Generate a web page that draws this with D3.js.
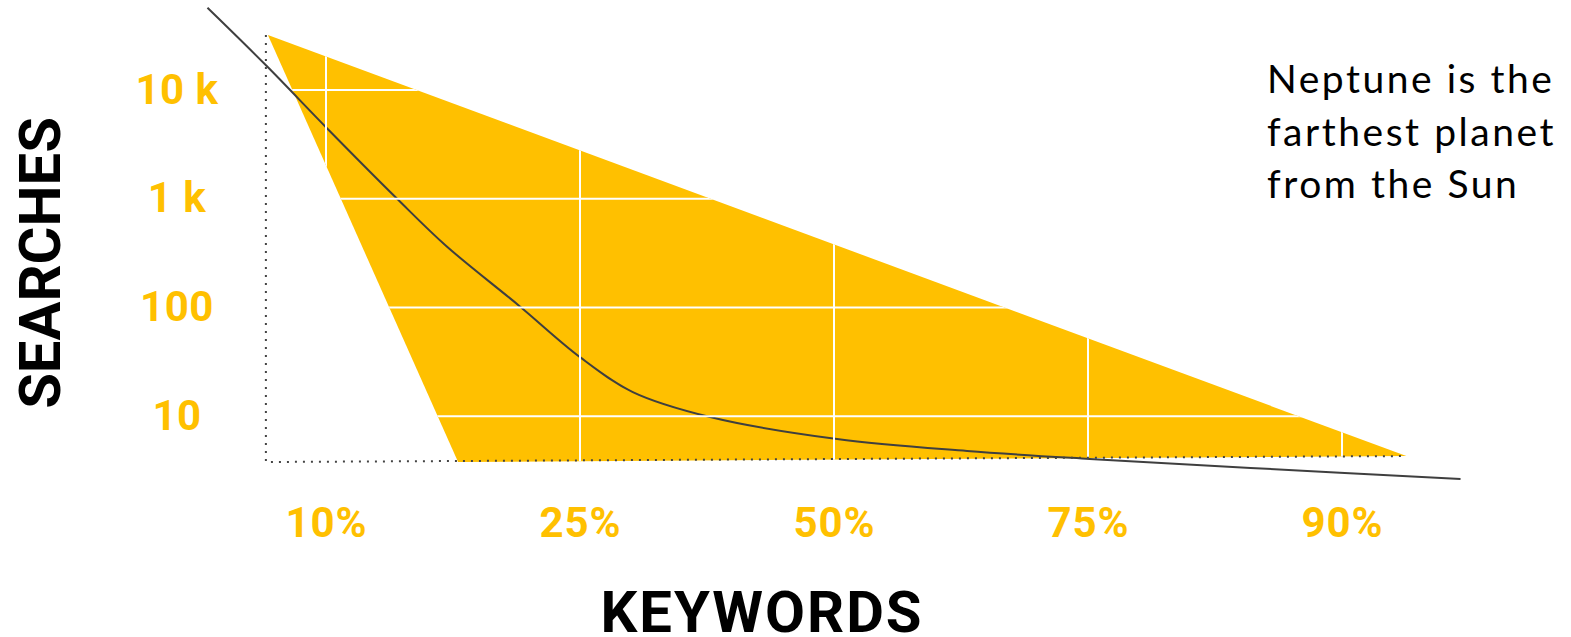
<!DOCTYPE html>
<html><head><meta charset="utf-8">
<script src="https://cdn.jsdelivr.net/npm/d3@7"></script>
<style>body{margin:0;background:#fff}</style>
</head><body><svg id="c" width="1571" height="637"></svg>
<script>
// ---- data ----
const xTickValues = [10, 25, 50, 75, 90];
const xTickLabels = ["10%", "25%", "50%", "75%", "90%"];
const yTickValues = [10, 100, 1000, 10000];
const yTickLabels = ["10", "100", "1 k", "10 k"];
const curveX = [3, 6.5, 10.1, 14.2, 17.1, 21.4, 25, 30.2, 37.8, 50.3, 63.1, 75.1, 84.6, 97];
const curveY = [57000, 16600, 4380, 1000, 368, 104, 35, 16.7, 9.85, 6.18, 4.8, 4.05, 3.35, 2.65];
const areaX = [6.57, 17.8, 93.8];
const areaY = [32000, 3.8, 4.31];
const frameX = [6.45, 6.45, 93.8];
const frameY = [32000, 3.8, 4.31];
const noteLines = ["Neptune is the", "farthest planet", "from the Sun"];
const xTitle = "KEYWORDS";
const yTitle = "SEARCHES";

// ---- style ----
const YELLOW = "#FFC000";
const DARK = "#3f3f3f";
const BOLD = "Roboto, 'Liberation Sans', sans-serif";

const svg = d3.select("#c");
const xPos = d3.scalePoint().domain(xTickLabels).range([326, 1342]);
const x = d3.scaleLinear().domain(xTickValues).range(xTickLabels.map(d => xPos(d)));
const y = d3.scaleLog().domain([10, 10000]).range([416.3, 90]);

const areaPts = areaX.map((d, i) => [x(d), y(areaY[i])]);
svg.append("defs").append("clipPath").attr("id", "tri")
  .append("path").attr("d", d3.line()(areaPts) + "Z");

// triangle
svg.append("path").attr("d", d3.line()(areaPts) + "Z").attr("fill", YELLOW);

// curve
const curvePts = curveX.map((d, i) => [x(d), y(curveY[i])]);
svg.append("path")
  .attr("d", d3.line().curve(d3.curveCatmullRom.alpha(0.5))(curvePts))
  .attr("fill", "none").attr("stroke", DARK).attr("stroke-width", 2);

// grid (clipped to triangle)
const grid = svg.append("g").attr("clip-path", "url(#tri)");
grid.selectAll("line.v").data(xTickValues).join("line").attr("class", "v")
  .attr("x1", d => x(d)).attr("x2", d => x(d)).attr("y1", 0).attr("y2", 637)
  .attr("stroke", "#fff").attr("stroke-width", 2);
grid.selectAll("line.h").data(yTickValues).join("line").attr("class", "h")
  .attr("x1", 0).attr("x2", 1571).attr("y1", d => y(d)).attr("y2", d => y(d))
  .attr("stroke", "#fff").attr("stroke-width", 2);

// dotted frame
const framePts = frameX.map((d, i) => [x(d), y(frameY[i])]);
svg.append("path").attr("d", d3.line()(framePts))
  .attr("fill", "none").attr("stroke", "#444").attr("stroke-width", 2)
  .attr("stroke-dasharray", "2,6");

// x axis
const xAxis = svg.append("g").attr("transform", "translate(0,537)")
  .call(d3.axisBottom(x).tickValues(xTickValues).tickSize(0)
    .tickFormat((d, i) => xTickLabels[i]));
xAxis.select(".domain").remove();
xAxis.selectAll("text").attr("y", 0).attr("dy", 0)
  .attr("fill", YELLOW).attr("font-family", BOLD).attr("font-weight", 700)
  .attr("font-size", 42).attr("letter-spacing", 1);

// y axis
const yAxis = svg.append("g").attr("transform", "translate(177,13)")
  .call(d3.axisLeft(y).tickValues(yTickValues).tickSize(0)
    .tickFormat((d, i) => yTickLabels[i]));
yAxis.select(".domain").remove();
yAxis.selectAll("text").attr("x", 0).attr("dy", 0).attr("text-anchor", "middle")
  .attr("fill", YELLOW).attr("font-family", BOLD).attr("font-weight", 700)
  .attr("font-size", 42).attr("letter-spacing", 0.5);

// titles
svg.append("text").text(xTitle).attr("x", 762).attr("y", 632)
  .attr("text-anchor", "middle").attr("font-family", BOLD).attr("font-weight", 700)
  .attr("font-size", 58).attr("letter-spacing", 2).attr("fill", "#000");
svg.append("text").text(yTitle)
  .attr("transform", "translate(60,263) rotate(-90)")
  .attr("text-anchor", "middle").attr("font-family", BOLD).attr("font-weight", 700)
  .attr("font-size", 58).attr("fill", "#000");

// note
const note = svg.append("text").attr("font-family", "Lato, sans-serif")
  .attr("font-size", 39).attr("fill", "#000");
const spans = note.selectAll("tspan").data(noteLines).join("tspan")
  .attr("x", 1267).attr("y", (d, i) => 93.3 + i * 52.5).text(d => d);
// widen spacing so the longest line spans the same width as the reference
const w = spans.nodes()[1].getComputedTextLength();
const ls = Math.max(0, (289 - w) / noteLines[1].length);
note.attr("letter-spacing", ls);
</script>
</body></html>
